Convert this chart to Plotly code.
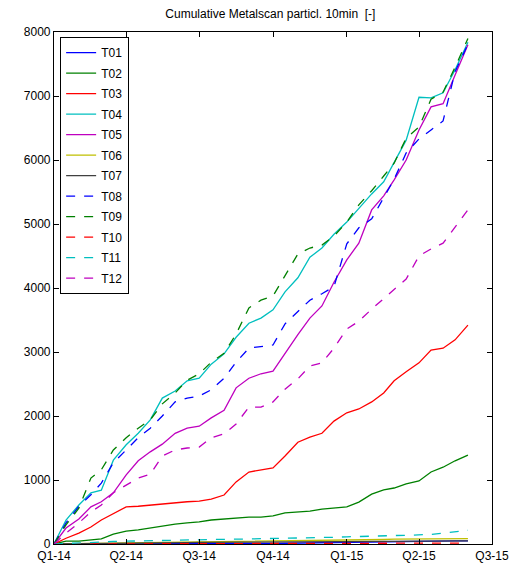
import plotly.graph_objects as go

dates = ["2014-01-01", "2014-01-16", "2014-02-01", "2014-02-16", "2014-03-01", "2014-03-16",
         "2014-04-01", "2014-04-16", "2014-05-01", "2014-05-16", "2014-06-01", "2014-06-16",
         "2014-07-01", "2014-07-16", "2014-08-01", "2014-08-16", "2014-09-01", "2014-09-16",
         "2014-10-01", "2014-10-16", "2014-11-01", "2014-11-16", "2014-12-01", "2014-12-16",
         "2015-01-01", "2015-01-16", "2015-02-01", "2015-02-16", "2015-03-01", "2015-03-16",
         "2015-04-01", "2015-04-16", "2015-05-01", "2015-05-16", "2015-06-01"]

T01 = [0, 0, 0, 0, 0, 0, 0, 0, 0, 0, 0, 0, 0, 0, 0, 0, 5, 8, 10, 12, 15, 18, 20, 22,
       25, 28, 30, 35, 45, 45, 45, 45, 48, 48, 50]
T02 = [0, 45, 45, 60, 80, 155, 200, 220, 250, 280, 310, 330, 345, 375, 390, 405, 420, 420,
       440, 485, 500, 515, 545, 560, 580, 655, 780, 845, 875, 940, 985, 1125, 1200, 1300, 1390]
T03 = [0, 90, 170, 265, 375, 470, 580, 590, 610, 625, 640, 660, 670, 700, 765, 970, 1125, 1160,
       1190, 1375, 1590, 1670, 1730, 1920, 2050, 2110, 2220, 2360, 2550, 2690, 2830, 3030, 3060,
       3190, 3420]
T04 = [0, 375, 610, 800, 840, 1310, 1550, 1730, 1940, 2280, 2390, 2550, 2590, 2810, 2970, 3230,
       3450, 3530, 3660, 3940, 4160, 4480, 4625, 4840, 5030, 5250, 5470, 5660, 5970, 6310, 6980,
       6970, 7050, 7410, 7840]
T05 = [0, 250, 390, 580, 660, 800, 1080, 1300, 1440, 1560, 1730, 1810, 1840, 1970, 2090, 2440,
       2590, 2660, 2700, 2980, 3270, 3530, 3720, 4090, 4440, 4700, 5220, 5440, 5690, 6000, 6470,
       6830, 6880, 7330, 7800]
T06 = [0, 5, 8, 10, 12, 15, 18, 20, 22, 25, 28, 30, 30, 32, 35, 38, 40, 42, 45, 48, 50, 52, 55,
       58, 60, 62, 65, 70, 75, 78, 80, 80, 82, 82, 85]
T07 = [0, 3, 5, 6, 8, 10, 12, 14, 16, 18, 20, 22, 24, 25, 26, 28, 30, 32, 34, 36, 38, 40, 40,
       42, 42, 44, 45, 45, 46, 46, 47, 47, 48, 48, 48]
T08 = [0, 330, 590, 770, 950, 1270, 1470, 1660, 1810, 2000, 2220, 2280, 2310, 2410, 2590, 2840,
       3060, 3080, 3110, 3440, 3625, 3810, 3910, 4020, 4690, 4940, 5080, 5410, 5700, 6110, 6330,
       6470, 6610, 7380, 7810]
T09 = [0, 300, 560, 1030, 1160, 1470, 1660, 1810, 1940, 2190, 2360, 2560, 2660, 2840, 2980, 3280,
       3690, 3810, 3875, 4190, 4530, 4625, 4670, 4810, 5030, 5300, 5520, 5750, 5950, 6340, 6515,
       6950, 7060, 7450, 7900]
T10 = [0, 1, 2, 2, 3, 3, 4, 4, 5, 5, 5, 6, 6, 6, 7, 7, 8, 8, 8, 9, 9, 10, 10, 10, 11, 11, 12,
       12, 12, 13, 13, 14, 14, 15, 15]
T11 = [0, 5, 10, 20, 30, 40, 45, 50, 55, 60, 62, 65, 68, 70, 72, 75, 78, 80, 82, 85, 88, 92, 98,
       105, 112, 120, 125, 130, 132, 135, 140, 150, 170, 190, 215]
T12 = [0, 170, 330, 500, 610, 800, 920, 1030, 1090, 1375, 1470, 1500, 1515, 1660, 1720, 1875,
       2140, 2140, 2220, 2420, 2580, 2780, 2830, 3060, 3360, 3480, 3670, 3830, 3970, 4140, 4500,
       4610, 4700, 4950, 5220]

series_names = ["T01", "T02", "T03", "T04", "T05", "T06", "T07", "T08", "T09", "T10", "T11", "T12"]
series_values = [T01, T02, T03, T04, T05, T06, T07, T08, T09, T10, T11, T12]

tick_dates = ["2014-01-01", "2014-04-01", "2014-07-01", "2014-10-01", "2015-01-01", "2015-04-01", "2015-07-01"]
tick_labels = ["Q1-14", "Q2-14", "Q3-14", "Q4-14", "Q1-15", "Q2-15", "Q3-15"]

colors = ["rgb(0,0,255)", "rgb(0,128,0)", "rgb(255,0,0)", "rgb(0,191,191)", "rgb(191,0,191)",
          "rgb(191,191,0)", "rgb(64,64,64)"]

fig = go.Figure()
for i, (name, vals) in enumerate(zip(series_names, series_values)):
    fig.add_trace(go.Scatter(
        x=dates, y=vals, mode="lines", name=name, legendgroup=name,
        line=dict(color=colors[i % 7], width=1.3, dash="solid" if i < 7 else "dash"),
    ))

axis_common = dict(showline=True, linecolor="black", linewidth=1.2, mirror="ticks",
                   ticks="inside", ticklen=5, tickcolor="black", showgrid=False, zeroline=False,
                   automargin=False,
                   tickfont=dict(family="Liberation Sans, Arial", size=12, color="black"))

fig.update_layout(
    width=525, height=564,
    margin=dict(l=54, r=33, t=32, b=20),
    paper_bgcolor="white", plot_bgcolor="white",
    title=dict(text="Cumulative Metalscan particl. 10min  [-]", x=0.515, xanchor="center",
               y=0.975, yanchor="middle",
               font=dict(family="Liberation Sans, Arial", size=12, color="black")),
    xaxis=dict(range=["2014-01-01", "2015-07-01"], tickvals=tick_dates, ticktext=tick_labels,
               **axis_common),
    yaxis=dict(range=[0, 8000], tickvals=list(range(0, 8001, 1000)), **axis_common),
    legend=dict(x=0.014, y=0.99, xanchor="left", yanchor="top", bgcolor="white",
                bordercolor="black", borderwidth=1, tracegroupgap=1.5,
                font=dict(family="Liberation Sans, Arial", size=12, color="black")),
)

fig.write_html("out.html")
